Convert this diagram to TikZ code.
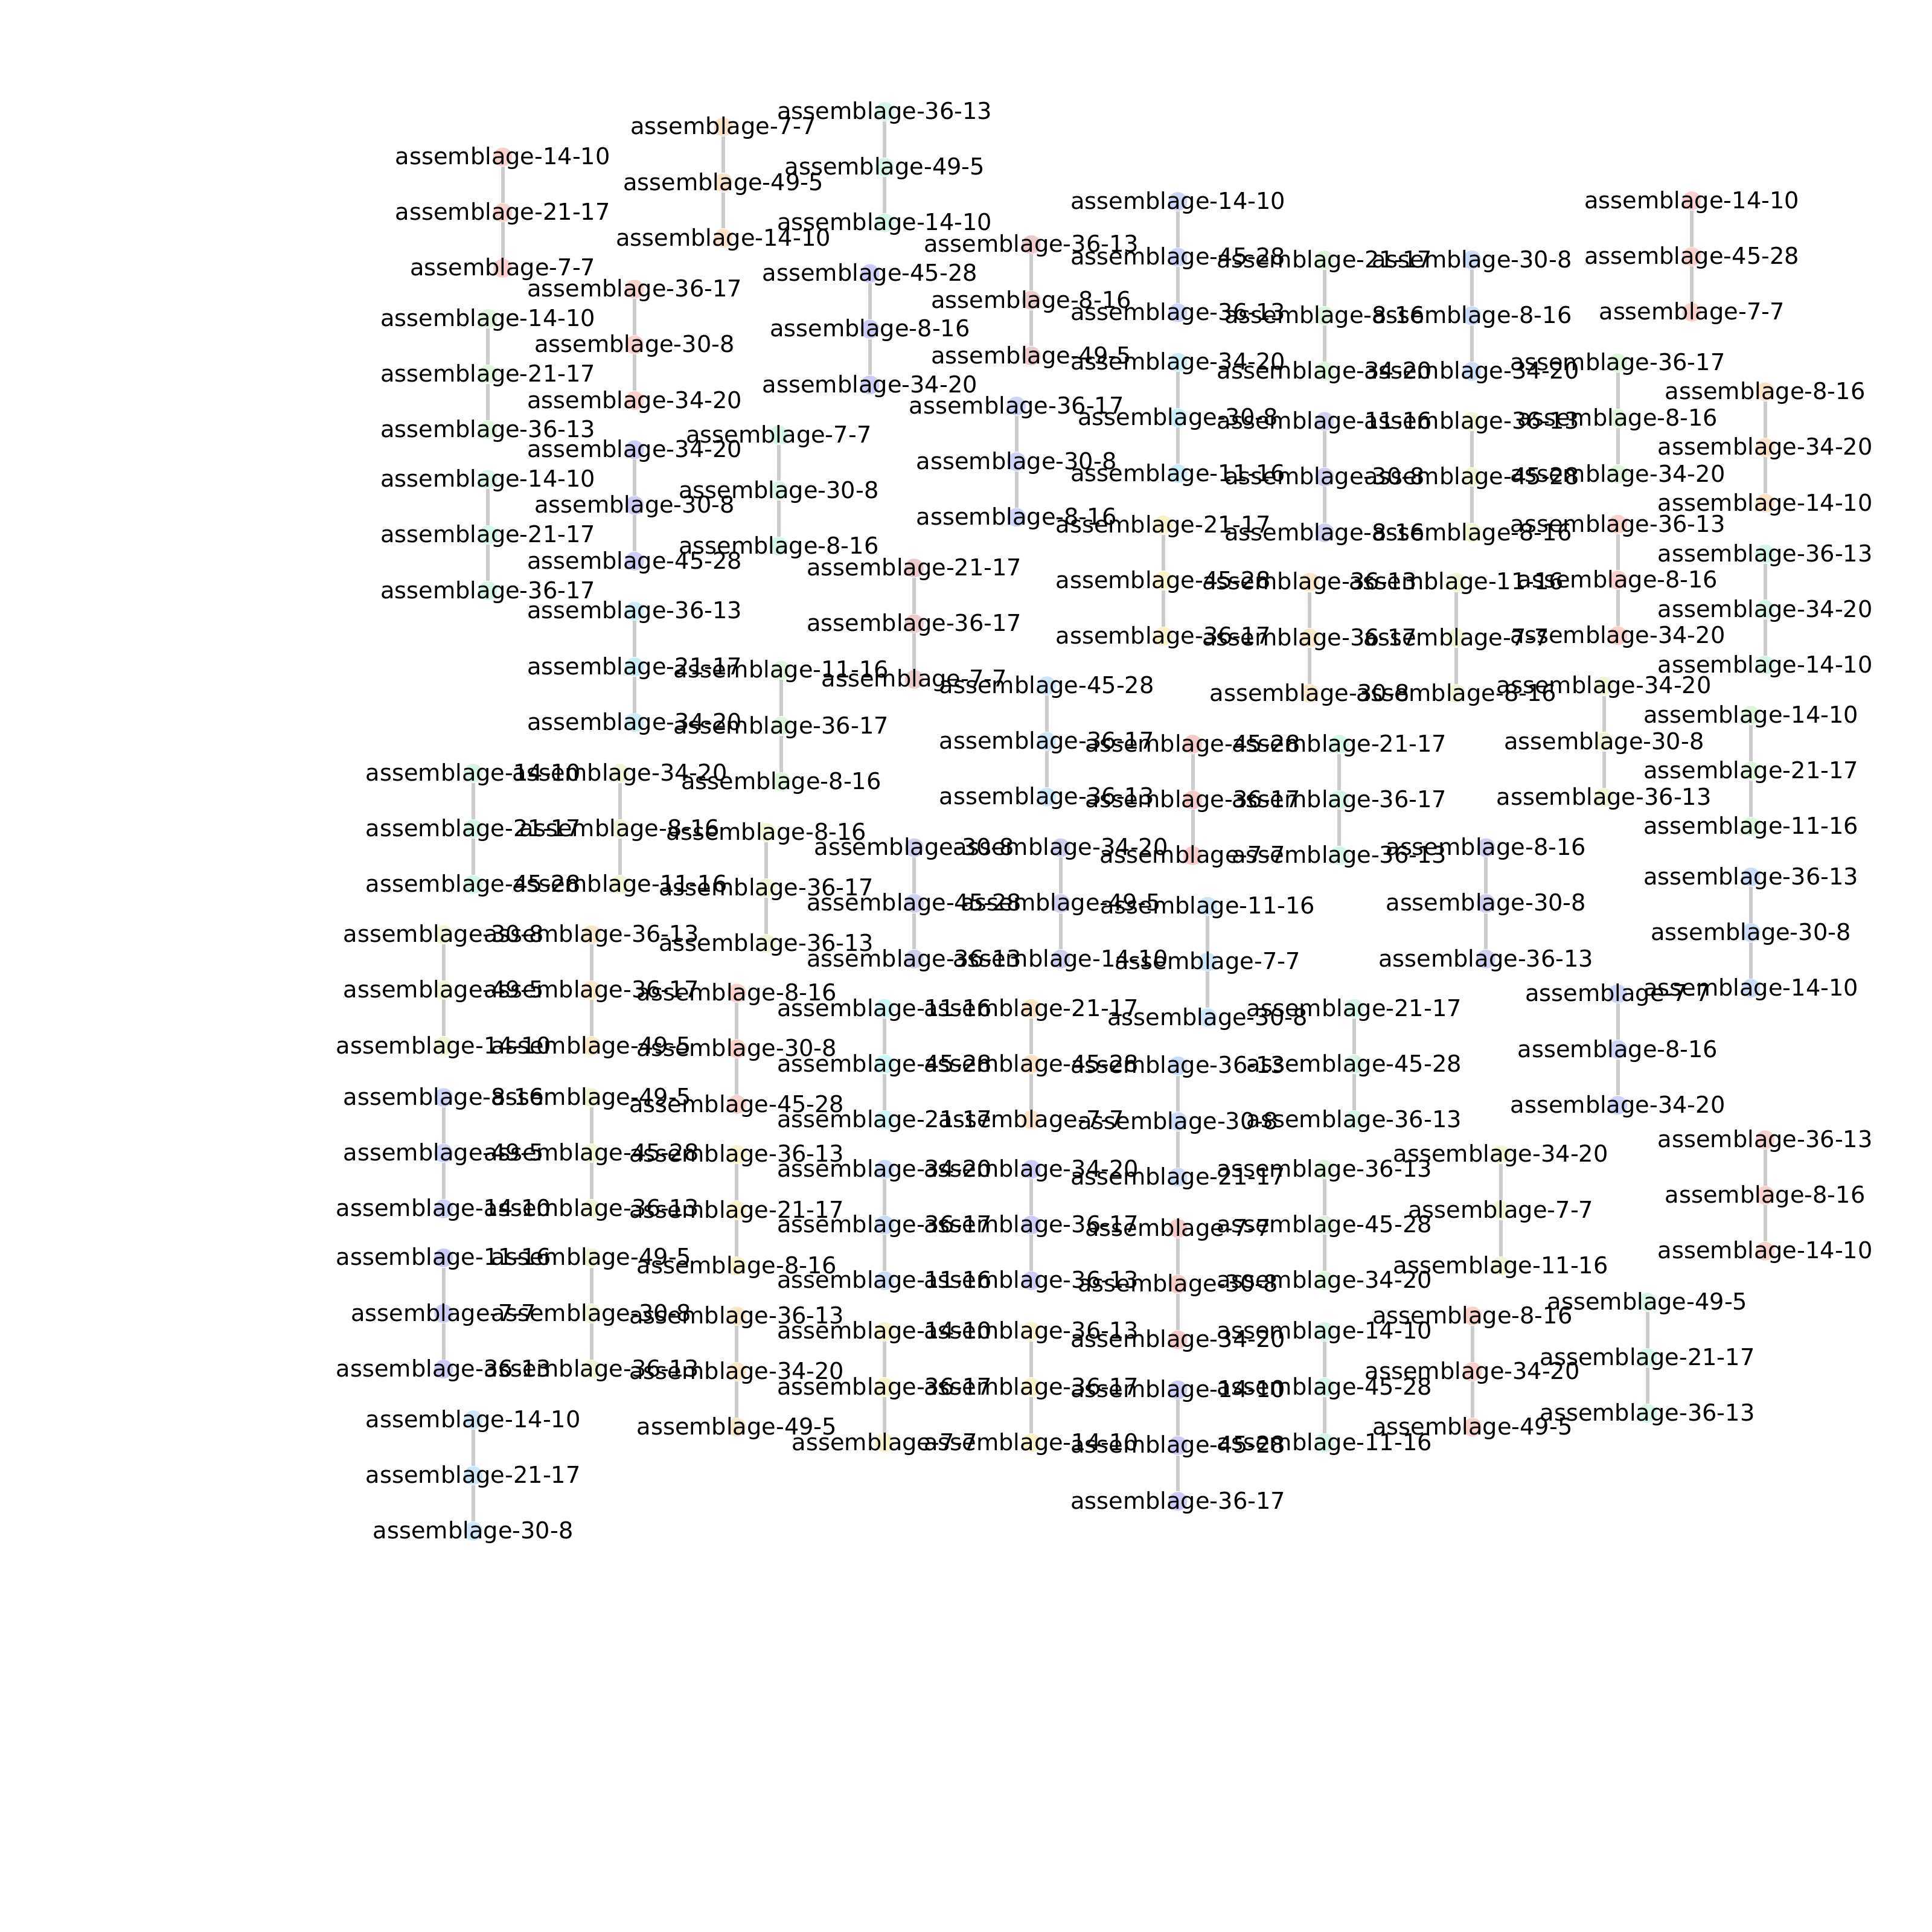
\documentclass[tikz,border=0pt]{standalone}
\usepackage{fontspec}
\setmainfont{DejaVu Sans}
\usepackage{xcolor}
\usepackage{tikz}
\usetikzlibrary{positioning}

\definecolor{cRed}{HTML}{FAD0CA}
\definecolor{cPeach}{HTML}{FCE3C8}
\definecolor{cRose}{HTML}{EBCBCB}
\definecolor{cPink}{HTML}{F7CACA}
\definecolor{cGreen}{HTML}{DDF6DB}
\definecolor{cMint}{HTML}{D3F6E6}
\definecolor{cLav}{HTML}{CCCCF7}
\definecolor{cLavGrey}{HTML}{CFCFEE}
\definecolor{cPeri}{HTML}{CED4F8}
\definecolor{cBlue}{HTML}{CBDCF8}
\definecolor{cCyan}{HTML}{CAEEF8}
\definecolor{cSky}{HTML}{CCE8F8}
\definecolor{cAqua}{HTML}{CCF6F6}
\definecolor{cYellow}{HTML}{FAF3C9}
\definecolor{cSand}{HTML}{F9E8C8}
\definecolor{cLime}{HTML}{EFF6D3}

\pgfdeclarelayer{edges}
\pgfdeclarelayer{labels}
\pgfsetlayers{edges,main,labels}

\begin{document}
\begin{tikzpicture}[x=0.0204082cm, y=-0.0204082cm,
    dot/.style={circle, draw=none, minimum size=0.31cm, inner sep=0pt},
    edge/.style={draw=black!20, line width=1.7pt},
    lab/.style={anchor=base, inner sep=0pt, font=\fontsize{10.9}{13}\selectfont}]
  \useasboundingbox (0,0) rectangle (1568,1568);

  % one chain of three assemblages each
  \foreach [count=\i] \px/\py/\col/\ta/\tb/\tc in {
      408/127.3/cRed/14-10/21-17/7-7,
      587/103/cPeach/7-7/49-5/14-10,
      718/90.5/cMint/36-13/49-5/14-10,
      396/258.5/cGreen/14-10/21-17/36-13,
      396/389/cMint/14-10/21-17/36-17,
      515/234.7/cRed/36-17/30-8/34-20,
      515/365/cLav/34-20/30-8/45-28,
      515/496/cCyan/36-13/21-17/34-20,
      706/222/cLav/45-28/8-16/34-20,
      837/198.5/cRose/36-13/8-16/49-5,
      632/353/cMint/7-7/30-8/8-16,
      825/329.5/cPeri/36-17/30-8/8-16,
      956/163.5/cPeri/14-10/45-28/36-13,
      956/294/cCyan/34-20/30-8/11-16,
      1075/211/cGreen/21-17/8-16/34-20,
      1075/342/cLavGrey/11-16/30-8/8-16,
      1194.5/211/cBlue/30-8/8-16/34-20,
      1194.5/342/cLime/36-13/45-28/8-16,
      1373/163/cRed/14-10/45-28/7-7,
      1313/294.5/cGreen/36-17/8-16/34-20,
      1432.6/318/cPeach/8-16/34-20/14-10,
      1313/425.5/cRed/36-13/8-16/34-20,
      1432.6/449.5/cMint/36-13/34-20/14-10,
      944/426/cYellow/21-17/45-28/36-17,
      1063/472.5/cSand/36-13/36-17/30-8,
      1182/472.5/cLime/11-16/7-7/8-16,
      742/461/cRose/21-17/36-17/7-7,
      634/544/cGreen/11-16/36-17/8-16,
      849.5/556.5/cSky/45-28/36-17/36-13,
      968/604/cPink/45-28/36-17/7-7,
      1087/604/cMint/21-17/36-17/36-13,
      1301.8/556.8/cLime/34-20/30-8/36-13,
      1421/580.5/cGreen/14-10/21-17/11-16,
      384/627.5/cMint/14-10/21-17/45-28,
      503/627.5/cLime/34-20/8-16/11-16,
      622/675.5/cLime/8-16/36-17/36-13,
      742/688/cLavGrey/30-8/45-28/36-13,
      860.8/688/cLavGrey/34-20/49-5/14-10,
      980/735.5/cSky/11-16/7-7/30-8,
      1206/688/cLavGrey/8-16/30-8/36-13,
      1421/711.7/cBlue/36-13/30-8/14-10,
      360/758.5/cLime/30-8/49-5/14-10,
      480/758.5/cSand/36-13/36-17/49-5,
      598/806/cRed/8-16/30-8/45-28,
      718/818.5/cAqua/11-16/45-28/21-17,
      837/818.5/cPeach/21-17/45-28/7-7,
      956/865/cBlue/36-13/30-8/21-17,
      1099/818.5/cMint/21-17/45-28/36-13,
      1313/806.6/cPeri/7-7/8-16/34-20,
      360/890.7/cPeri/8-16/49-5/14-10,
      480/890.7/cLime/49-5/45-28/36-13,
      598/937/cYellow/36-13/21-17/8-16,
      718/949/cBlue/34-20/36-17/11-16,
      837/949/cLav/34-20/36-17/36-13,
      956/997/cPink/7-7/30-8/34-20,
      1075/949/cGreen/36-13/45-28/34-20,
      1218/937/cLime/34-20/7-7/11-16,
      1432.6/925/cRed/36-13/8-16/14-10,
      360/1020.8/cLav/11-16/7-7/36-13,
      480/1020.8/cLime/49-5/30-8/36-13,
      598/1068/cSand/36-13/34-20/49-5,
      718/1080.6/cYellow/14-10/36-17/7-7,
      837/1080.6/cYellow/36-13/36-17/14-10,
      956/1128/cLav/14-10/45-28/36-17,
      1075/1080.6/cMint/14-10/45-28/11-16,
      1195/1068/cRed/8-16/34-20/49-5,
      1337/1056.7/cMint/49-5/21-17/36-13,
      384/1152.3/cSky/14-10/21-17/30-8}
  {
    \node[dot, fill=\col] (a\i) at (\px,\py) {};
    \node[dot, fill=\col] (b\i) at (\px,\py+45.2) {};
    \node[dot, fill=\col] (c\i) at (\px,\py+90.4) {};
    \begin{pgfonlayer}{edges}
      \draw[edge] (a\i) -- (b\i) -- (c\i);
    \end{pgfonlayer}
    \begin{pgfonlayer}{labels}
      \node[lab] (ta\i) at (\px,\py+6.2) {assemblage-\ta};
      \node[lab] (tb\i) at (\px,\py+51.4) {assemblage-\tb};
      \node[lab] (tc\i) at (\px,\py+96.6) {assemblage-\tc};
    \end{pgfonlayer}
  }
\end{tikzpicture}
\end{document}
